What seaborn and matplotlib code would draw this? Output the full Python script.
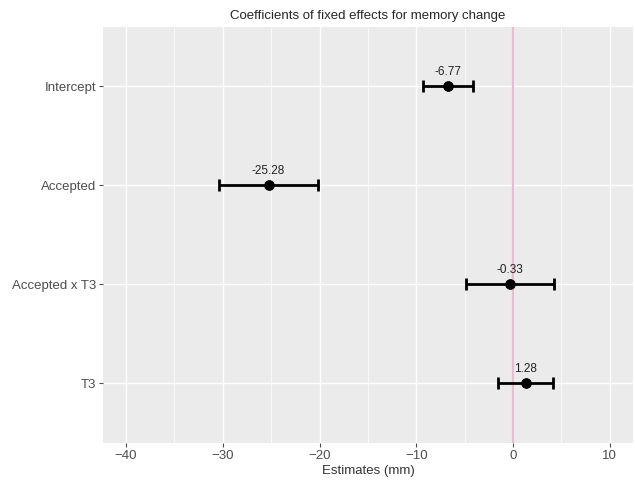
import matplotlib
matplotlib.use("Agg")
import matplotlib.pyplot as plt
import numpy as np
import pandas as pd
import seaborn as sns

terms = ["Intercept", "Accepted", "Accepted x T3", "T3"]
estimates = [-6.77, -25.28, -0.33, 1.28]
ci_low = [-9.35, -30.4, -4.85, -1.55]
ci_high = [-4.1, -20.15, 4.2, 4.15]

sns.set_theme(style="darkgrid", rc={
    "axes.facecolor": "#EBEBEB",
    "grid.color": "white",
    "axes.edgecolor": "#EBEBEB",
    "xtick.bottom": True, "ytick.left": True,
    "xtick.color": "#4D4D4D", "ytick.color": "#4D4D4D",
    "xtick.major.size": 3, "ytick.major.size": 3,
    "xtick.major.width": 0.8, "ytick.major.width": 0.8,
})
plt.rcParams["font.family"] = ["Liberation Sans", "DejaVu Sans"]

df = pd.DataFrame({"term": terms, "est": estimates, "lo": ci_low, "hi": ci_high})
df["pos"] = np.arange(len(terms))[::-1] + 1

fig = plt.figure(figsize=(6.35, 4.84), dpi=100)
ax = fig.add_axes([0.162, 0.085, 0.835, 0.859])

ax.axvline(0, color="#EBBBD3", lw=1.6, zorder=1)
ax.errorbar(df["est"], df["pos"], xerr=[df["est"] - df["lo"], df["hi"] - df["est"]],
            fmt="none", ecolor="black", elinewidth=2, capsize=4, capthick=2, zorder=2)
sns.scatterplot(data=df, x="est", y="pos", color="black", s=50, edgecolor="black",
                ax=ax, zorder=3, legend=False)
for _, r in df.iterrows():
    ax.text(r["est"], r["pos"] + 0.09, f"{r['est']:.2f}", ha="center", va="bottom",
            fontsize=8.5, color="#222222")

ax.set_xlim(-42.4, 12.4)
ax.set_ylim(0.4, 4.6)
ax.set_xticks([-40, -30, -20, -10, 0, 10])
ax.set_xticks([-35, -25, -15, -5, 5], minor=True)
ax.grid(which="major", lw=1.0)
ax.grid(which="minor", axis="x", lw=0.5, color="white")
ax.tick_params(axis="x", which="minor", length=0)
ax.set_yticks(df["pos"])
ax.set_yticklabels(df["term"])
ax.tick_params(labelsize=9.5, pad=2)
ax.set_xlabel("Estimates (mm)", fontsize=9.5, color="#333333", labelpad=2)
ax.set_ylabel("")
ax.set_title("Coefficients of fixed effects for memory change", fontsize=9.5, pad=6)
for s in ax.spines.values():
    s.set_visible(False)

fig.savefig("out.png", dpi=100)
